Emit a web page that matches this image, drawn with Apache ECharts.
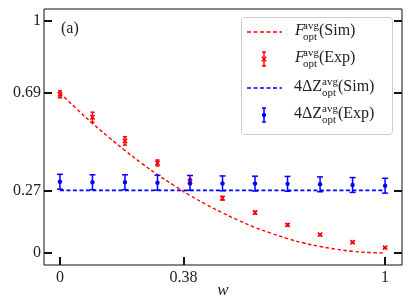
<!DOCTYPE html>
<html>
<head>
<meta charset="utf-8">
<script src="https://cdn.jsdelivr.net/npm/echarts@6/dist/echarts.min.js"></script>
<style>html,body{margin:0;padding:0;background:#fff}#c{width:411px;height:308px}</style>
</head>
<body>
<div id="c"></div>
<script>
// ---- data ----
const wExp = [0, 0.1, 0.2, 0.3, 0.4, 0.5, 0.6, 0.7, 0.8, 0.9, 1];
const fExp = [0.684, 0.585, 0.483, 0.388, 0.307, 0.236, 0.174, 0.121, 0.079, 0.046, 0.023];
const fErr = [0.015, 0.022, 0.018, 0.013, 0.012, 0.008, 0.006, 0.005, 0.004, 0.004, 0.004];
const zExp = [0.307, 0.305, 0.305, 0.303, 0.302, 0.300, 0.299, 0.298, 0.296, 0.293, 0.290];
const zErr = [0.032, 0.032, 0.032, 0.032, 0.032, 0.032, 0.032, 0.032, 0.032, 0.032, 0.032];
const wSim = [0, 0.05, 0.1, 0.15, 0.2, 0.25, 0.3, 0.35, 0.4, 0.45, 0.5, 0.55, 0.6, 0.65, 0.7, 0.75, 0.8, 0.85, 0.9, 0.95, 1];
const fSim = [0.690, 0.623, 0.559, 0.499, 0.442, 0.388, 0.338, 0.292, 0.248, 0.209, 0.173, 0.140, 0.110, 0.085, 0.062, 0.043, 0.028, 0.016, 0.007, 0.002, 0];
const zSimW = [0, 1];
const zSim = [0.27, 0.27];
const xTicks = [0, 0.38, 1];
const yTicks = [0, 0.27, 0.69, 1];

const RED = '#ff0000', BLUE = '#0000ff';
const SERIF = '"Liberation Serif", "DejaVu Serif", serif';

function errData(xs, ys, es) { return xs.map((x, i) => [x, ys[i], ys[i] - es[i], ys[i] + es[i]]); }

function errRender(color, capHalf, marker) {
  return function (params, api) {
    const x = api.value(0), y = api.value(1), lo = api.value(2), hi = api.value(3);
    const p = api.coord([x, y]), pl = api.coord([x, lo]), ph = api.coord([x, hi]);
    const st = { stroke: color, lineWidth: 1.5 };
    const ch = [
      { type: 'line', shape: { x1: pl[0], y1: pl[1], x2: ph[0], y2: ph[1] }, style: st },
      { type: 'line', shape: { x1: pl[0] - capHalf, y1: pl[1], x2: pl[0] + capHalf, y2: pl[1] }, style: st },
      { type: 'line', shape: { x1: ph[0] - capHalf, y1: ph[1], x2: ph[0] + capHalf, y2: ph[1] }, style: st }
    ];
    if (marker === 'x') {
      const s = 2.2;
      ch.push({ type: 'line', shape: { x1: p[0] - s, y1: p[1] - s, x2: p[0] + s, y2: p[1] + s }, style: st });
      ch.push({ type: 'line', shape: { x1: p[0] - s, y1: p[1] + s, x2: p[0] + s, y2: p[1] - s }, style: st });
    } else {
      ch.push({ type: 'circle', shape: { cx: p[0], cy: p[1], r: 2.2 }, style: { fill: color } });
    }
    return { type: 'group', children: ch };
  };
}

function legendText(x, y, pre, italic, suffix) {
  const preW = pre.width;
  return [
    { type: 'text', x: x, y: y, style: { text: pre.text, font: (italic ? 'italic ' : '') + '16px ' + SERIF, fill: '#222', verticalAlign: 'middle' } },
    { type: 'text', x: x + preW, y: y - 5, style: { text: 'avg', font: '11px ' + SERIF, fill: '#222', verticalAlign: 'middle' } },
    { type: 'text', x: x + preW, y: y + 6, style: { text: 'opt', font: '11px ' + SERIF, fill: '#222', verticalAlign: 'middle' } },
    { type: 'text', x: x + preW + 16, y: y, style: { text: suffix, font: '16px ' + SERIF, fill: '#222', verticalAlign: 'middle' } }
  ];
}

function legendErr(cx, cy, color, capHalf, marker) {
  const st = { stroke: color, lineWidth: 1.5 };
  const ch = [
    { type: 'line', shape: { x1: cx, y1: cy - 7, x2: cx, y2: cy + 7 }, style: st },
    { type: 'line', shape: { x1: cx - capHalf, y1: cy - 7, x2: cx + capHalf, y2: cy - 7 }, style: st },
    { type: 'line', shape: { x1: cx - capHalf, y1: cy + 7, x2: cx + capHalf, y2: cy + 7 }, style: st }
  ];
  if (marker === 'x') {
    const s = 2.2;
    ch.push({ type: 'line', shape: { x1: cx - s, y1: cy - s, x2: cx + s, y2: cy + s }, style: st });
    ch.push({ type: 'line', shape: { x1: cx - s, y1: cy + s, x2: cx + s, y2: cy - s }, style: st });
  } else {
    ch.push({ type: 'circle', shape: { cx: cx, cy: cy, r: 2.2 }, style: { fill: color } });
  }
  return ch;
}

const rows = [32, 59, 88, 115];
const legendEls = [
  { type: 'rect', shape: { x: 241.5, y: 17.5, width: 151, height: 117, r: 3 }, style: { fill: 'rgba(255,255,255,0.85)', stroke: '#cccccc', lineWidth: 1 } },
  { type: 'line', shape: { x1: 247, y1: rows[0], x2: 282, y2: rows[0] }, style: { stroke: RED, lineWidth: 1.5, lineDash: [4, 2.5] } },
  ...legendErr(264, rows[1], RED, 2, 'x'),
  { type: 'line', shape: { x1: 247, y1: rows[2], x2: 282, y2: rows[2] }, style: { stroke: BLUE, lineWidth: 1.5, lineDash: [4, 2.5] } },
  ...legendErr(264, rows[3], BLUE, 2, 'o'),
  ...legendText(295, rows[0] - 1, { text: 'F', width: 8 }, true, '(Sim)'),
  ...legendText(295, rows[1] - 1, { text: 'F', width: 8 }, true, '(Exp)'),
  ...legendText(294, rows[2] - 1, { text: '4\u0394Z', width: 28 }, false, '(Sim)'),
  ...legendText(294, rows[3] - 1, { text: '4\u0394Z', width: 28 }, false, '(Exp)')
];

const tickStyle = { color: '#111', width: 2 };
const chart = echarts.init(document.getElementById('c'), null, { renderer: 'canvas' });
chart.setOption({
  animation: false,
  backgroundColor: '#fff',
  grid: { left: 44, right: 9, top: 9, bottom: 43, show: true, borderColor: '#111', borderWidth: 1, containLabel: false, outerBoundsMode: 'none' },
  xAxis: {
    type: 'value', min: -0.049, max: 1.052, position: 'bottom',
    name: 'w', nameLocation: 'middle', nameGap: 17, nameMoveOverlap: false,
    nameTextStyle: { fontFamily: SERIF, fontStyle: 'italic', fontSize: 17, color: '#222' },
    axisLine: { show: false, onZero: false },
    splitLine: { show: false },
    axisTick: { inside: true, length: 8, lineStyle: tickStyle, customValues: xTicks },
    axisLabel: { customValues: xTicks, fontFamily: SERIF, fontSize: 16, color: '#222', margin: 5 }
  },
  yAxis: [{
    type: 'value', min: -0.052, max: 1.052, position: 'left',
    axisLine: { show: false, onZero: false }, splitLine: { show: false },
    axisTick: { inside: true, length: 8, lineStyle: tickStyle, customValues: yTicks },
    axisLabel: { customValues: yTicks, fontFamily: SERIF, fontSize: 16, color: '#222', margin: 3 }
  }, {
    type: 'value', min: -0.052, max: 1.052, position: 'right',
    axisLine: { show: false, onZero: false }, splitLine: { show: false },
    axisTick: { inside: true, length: 8, lineStyle: tickStyle, customValues: yTicks },
    axisLabel: { show: false, customValues: yTicks }
  }],
  series: [
    { type: 'line', data: zSimW.map((w, i) => [w, zSim[i]]), showSymbol: false, lineStyle: { color: BLUE, width: 1.6, type: [4, 2.5] }, z: 2 },
    { type: 'line', data: wSim.map((w, i) => [w, fSim[i]]), showSymbol: false, smooth: true, lineStyle: { color: RED, width: 1.4, type: [3.5, 2.5] }, z: 2 },
    { type: 'custom', renderItem: errRender(RED, 2, 'x'), data: errData(wExp, fExp, fErr), encode: { x: 0, y: [1, 2, 3] }, z: 3 },
    { type: 'custom', renderItem: errRender(BLUE, 3, 'o'), data: errData(wExp, zExp, zErr), encode: { x: 0, y: [1, 2, 3] }, z: 3 }
  ],
  graphic: [
    { type: 'text', x: 61, y: 29, style: { text: '(a)', font: '16px ' + SERIF, fill: '#222', verticalAlign: 'middle' } },
    { type: 'group', children: legendEls, z: 100 }
  ]
});
</script>
</body>
</html>
